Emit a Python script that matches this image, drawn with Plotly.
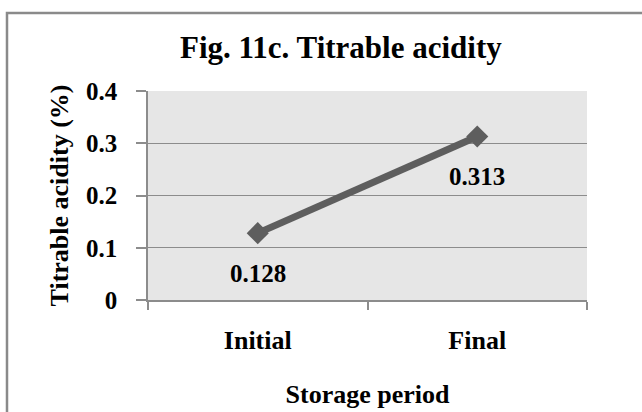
import plotly.graph_objects as go

# Titrable acidity over the storage period
periods = ["Initial", "Final"]
acidity = [0.128, 0.313]
y_ticks = [0, 0.1, 0.2, 0.3, 0.4]
y_tick_text = ["0", "0.1", "0.2", "0.3", "0.4"]

FONT = "Liberation Serif, Times New Roman, serif"
GRID = "#8c8c8c"
LINE = "#5e5e5e"

fig = go.Figure()
fig.add_trace(go.Scatter(
    x=periods,
    y=acidity,
    mode="lines+markers",
    line=dict(color=LINE, width=7),
    marker=dict(symbol="diamond", size=17, color=LINE),
    hoverinfo="skip",
    showlegend=False,
))

# value labels under each point
for p, v in zip(periods, acidity):
    fig.add_annotation(
        x=p, y=v, text=f"{v:.3f}", showarrow=False,
        yshift=-40, xanchor="center", yanchor="middle",
        font=dict(family=FONT, size=25, color="black", weight="bold"),
    )

# outer chart frame
fig.add_shape(
    type="rect", xref="paper", yref="paper",
    x0=-0.3212, x1=1.2, y0=-0.6, y1=1.3732,
    line=dict(color="#8a8a8a", width=2.5),
    fillcolor="rgba(0,0,0,0)", layer="below",
)

fig.update_layout(
    width=642, height=412,
    margin=dict(l=148, r=55, t=91, b=112),
    paper_bgcolor="white",
    plot_bgcolor="#e6e6e6",
    font=dict(family=FONT, color="black"),
    title=dict(
        text="<b>Fig. 11c. Titrable acidity</b>",
        x=0.531, xref="container", xanchor="center",
        y=0.885, yref="container", yanchor="middle",
        font=dict(family=FONT, size=31, color="black"),
    ),
    xaxis=dict(
        type="category",
        range=[-0.5, 1.5],
        automargin=False,
        showgrid=False,
        zeroline=False,
        showline=True, linecolor=GRID, linewidth=1.5,
        ticks="outside", tickson="boundaries", ticklen=8,
        tickcolor=GRID, tickwidth=1.5,
        ticklabelstandoff=16,
        tickfont=dict(family=FONT, size=26, color="black", weight="bold"),
        title=dict(
            text="<b>Storage period</b>",
            font=dict(family=FONT, size=26, color="black"),
            standoff=31,
        ),
    ),
    yaxis=dict(
        range=[0, 0.4001],
        tickvals=y_ticks, ticktext=y_tick_text,
        automargin=False,
        showgrid=True, gridcolor=GRID, gridwidth=1.3,
        zeroline=False,
        showline=True, linecolor=GRID, linewidth=1.5,
        ticks="outside", ticklen=10, tickcolor=GRID, tickwidth=1.5,
        ticklabelstandoff=14,
        tickfont=dict(family=FONT, size=25, color="black", weight="bold"),
        title=dict(
            text="<b>Titrable acidity (%)</b>",
            font=dict(family=FONT, size=26, color="black"),
            standoff=10,
        ),
    ),
)

fig.write_html("out.html")
